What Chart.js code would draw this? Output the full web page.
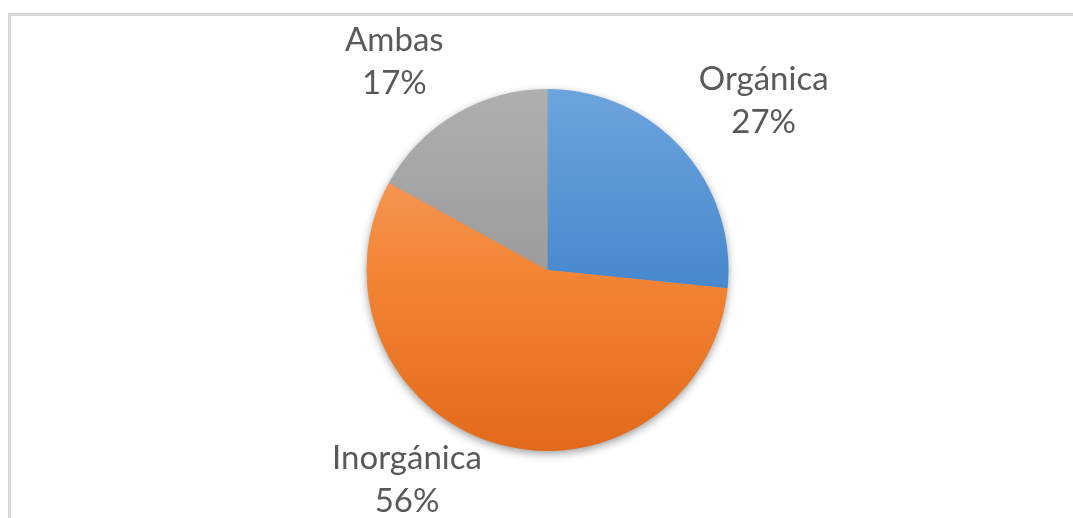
<!DOCTYPE html>
<html>
<head>
<meta charset="utf-8">
<script src="https://cdn.jsdelivr.net/npm/chart.js@4/dist/chart.umd.min.js"></script>
<style>
  html, body { margin: 0; padding: 0; background: #ffffff; overflow: hidden; }
  #wrap { position: relative; width: 1073px; height: 518px; }
  #frame { position: absolute; left: 8px; top: 13px; right: -20px; bottom: -20px;
           border-left: 3px solid #D9D9D9; border-top: 3px solid #D9D9D9; }
  #c { position: absolute; left: 0; top: 0; }
</style>
</head>
<body>
<div id="wrap">
  <div id="frame"></div>
  <canvas id="c" width="1073" height="518"></canvas>
</div>
<script>
// ---- data ----
const categories = ['Orgánica', 'Inorgánica', 'Ambas'];
const shares = [26.6, 56.4, 17.0];

// ---- style ----
const gradientStops = [
  ['#6CA4DD', '#4A8ACE', '#3277C0'],
  ['#F8A56E', '#F38535', '#E3691A'],
  ['#AFAFAF', '#9C9C9C', '#8C8C8C']
];
const labelFont = '33px Lato';
const labelColor = '#595959';
const lineGap = 43;
const capHeight = 24;
const labelGap = 23;
const labelNudge = [[0, 0], [-5, -20], [0, 0]];
const pieRadius = 181;

function sliceFill(ctx) {
  const chart = ctx.chart;
  const area = chart.chartArea;
  const stops = gradientStops[ctx.dataIndex];
  if (!area) return stops[1];
  const cy = (area.top + area.bottom) / 2;
  const g = chart.ctx.createLinearGradient(0, cy - pieRadius, 0, cy + pieRadius);
  g.addColorStop(0, stops[0]);
  g.addColorStop(0.5, stops[1]);
  g.addColorStop(1, stops[2]);
  return g;
}

const shadowPlugin = {
  id: 'pieShadow',
  beforeDatasetsDraw(chart) {
    const arc = chart.getDatasetMeta(0).data[0];
    if (!arc) return;
    const ctx = chart.ctx;
    ctx.save();
    ctx.shadowColor = 'rgba(0,0,0,0.45)';
    ctx.shadowBlur = 10;
    ctx.shadowOffsetY = 3;
    ctx.fillStyle = '#9a9a9a';
    ctx.beginPath();
    ctx.arc(arc.x, arc.y, arc.outerRadius - 1, 0, Math.PI * 2);
    ctx.fill();
    ctx.restore();
  }
};

const labelPlugin = {
  id: 'outsideLabels',
  afterDatasetsDraw(chart) {
    const meta = chart.getDatasetMeta(0);
    const values = chart.data.datasets[0].data;
    const total = values.reduce((a, b) => a + b, 0);
    const ctx = chart.ctx;
    ctx.save();
    ctx.font = labelFont;
    ctx.fillStyle = labelColor;
    ctx.textAlign = 'center';
    ctx.textBaseline = 'alphabetic';
    meta.data.forEach((arc, i) => {
      const lines = [chart.data.labels[i], Math.round(values[i] / total * 100) + '%'];
      const w = Math.max(...lines.map(t => ctx.measureText(t).width));
      const h = capHeight + lineGap * (lines.length - 1);
      const mid = (arc.startAngle + arc.endAngle) / 2;
      const cx = Math.cos(mid), sy = Math.sin(mid);
      const ax = arc.x + cx * (arc.outerRadius + labelGap);
      const ay = arc.y + sy * (arc.outerRadius + labelGap);
      let left = cx >= 0 ? ax : ax - w;
      let top = sy >= 0 ? ay : ay - h;
      left += labelNudge[i][0];
      top += labelNudge[i][1];
      lines.forEach((t, k) => {
        ctx.fillText(t, left + w / 2, top + capHeight + k * lineGap);
      });
    });
    ctx.restore();
  }
};

new Chart(document.getElementById('c'), {
  type: 'pie',
  data: {
    labels: categories,
    datasets: [{
      data: shares,
      backgroundColor: sliceFill,
      borderWidth: 0
    }]
  },
  options: {
    responsive: false,
    animation: false,
    radius: pieRadius,
    layout: { padding: { left: 22, right: 0, top: 22, bottom: 0 } },
    plugins: { legend: { display: false }, tooltip: { enabled: false } }
  },
  plugins: [shadowPlugin, labelPlugin]
});
</script>
</body>
</html>
